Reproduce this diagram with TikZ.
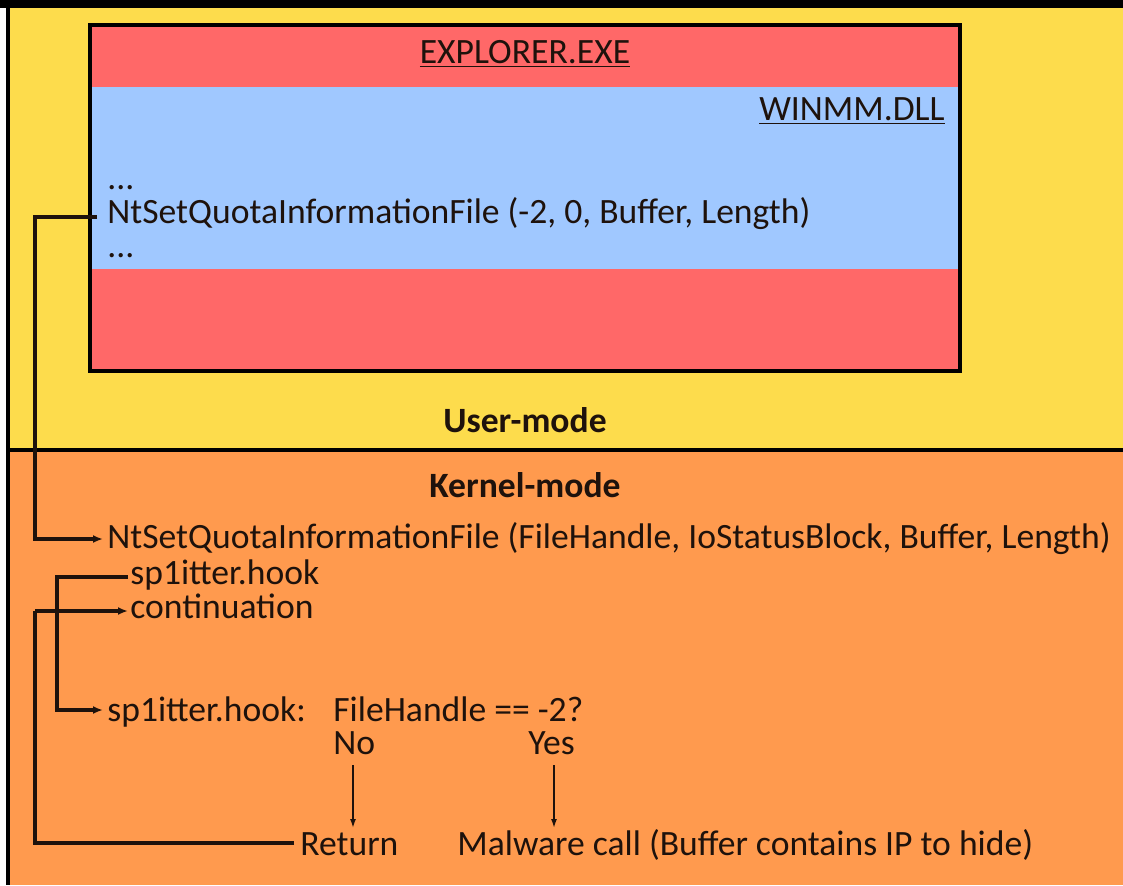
\documentclass[tikz,border=0pt]{standalone}
\usepackage{fontspec}
\setmainfont{Carlito}
\usetikzlibrary{arrows.meta}
\definecolor{ylw}{HTML}{FDDC4C}
\definecolor{orng}{HTML}{FF9A4E}
\definecolor{redb}{HTML}{FF6868}
\definecolor{blueb}{HTML}{A0C8FF}
\definecolor{ink}{HTML}{1E120C}
\tikzset{
  txt/.style={anchor=base west, inner sep=0pt, font=\fontsize{17.8}{20}\selectfont, text=ink},
  btxt/.style={anchor=base, inner sep=0pt, font=\fontsize{17.8}{20}\selectfont\bfseries, text=ink},
  dots/.style={txt, text height=3pt, text depth=0pt},
  conn/.style={draw=ink, line width=1.6pt},
  arr/.style={conn, -{Latex[length=5pt,width=4pt]}},
  thin/.style={draw=ink, line width=0.8pt, -{Latex[length=4.5pt,width=3pt]}}
}
\begin{document}
\begin{tikzpicture}[x=0.5pt,y=-0.5pt]
\useasboundingbox (0,0) rectangle (1123,885);
\fill[white] (0,0) rectangle (1123,885);
\fill[ylw] (10,8) rectangle (1123,451);
\fill[orng] (10,451) rectangle (1123,885);
\fill[black] (6,0) rectangle (10,885);
\fill[black] (0,0) rectangle (1123,8);
\draw[black, line width=2pt] (10,450) -- (1123,450);
% red box
\draw[black, line width=1.6pt, fill=redb] (90,25) rectangle (960,371);
\fill[blueb] (91.6,87) rectangle (958.4,269);
% texts in user mode
\node[anchor=base, inner sep=0pt, font=\fontsize{17.8}{20}\selectfont, text=ink] (exp) at (525,63) {\underline{EXPLORER.EXE}};
\node[anchor=base east, inner sep=0pt, font=\fontsize{17.8}{20}\selectfont, text=ink] (dll) at (945,120) {\underline{WINMM.DLL}};
\node[dots] (d1) at (107,189) {...};
\node[txt, text height=10pt, text depth=3pt] (ucall) at (107,223) {NtSetQuotaInformationFile (-2, 0, Buffer, Length)};
\node[dots] (d2) at (107,257) {...};
\node[btxt] (um) at (525,432) {User-mode};
\node[btxt] (km) at (525,497) {Kernel-mode};
% kernel texts
\node[txt] (kcall) at (107,548) {NtSetQuotaInformationFile (FileHandle, IoStatusBlock, Buffer, Length)};
\node[txt] (hk1) at (130,584) {sp1itter.hook};
\node[txt] (cont) at (130,618) {continuation};
\node[txt] (hk2) at (107,721) {sp1itter.hook:};
\node[txt] (fh) at (333,721) {FileHandle == -2?};
\node[txt] (no) at (333,754) {No};
\node[txt] (yes) at (528,754) {Yes};
\node[txt] (ret) at (300,855) {Return};
\node[txt] (mal) at (457,855) {Malware call (Buffer contains IP to hide)};
% connectors
\coordinate (c1) at (97,217);
\draw[arr] (c1) -- (35,217) |- ([xshift=-2pt]kcall.west |- 0,539);
\draw[arr] ([xshift=-1pt]hk1.west |- 0,577) -- (57,577) |- ([xshift=-2pt]hk2.west |- 0,710);
\draw[arr] (35,611) -- ([xshift=-1pt]cont.west |- 0,611);
\draw[conn] ([xshift=-3pt]ret.west |- 0,843) -| (35,611);
\draw[thin] (353,765) -- (353,828);
\draw[thin] (554,765) -- (554,828);
\end{tikzpicture}
\end{document}
